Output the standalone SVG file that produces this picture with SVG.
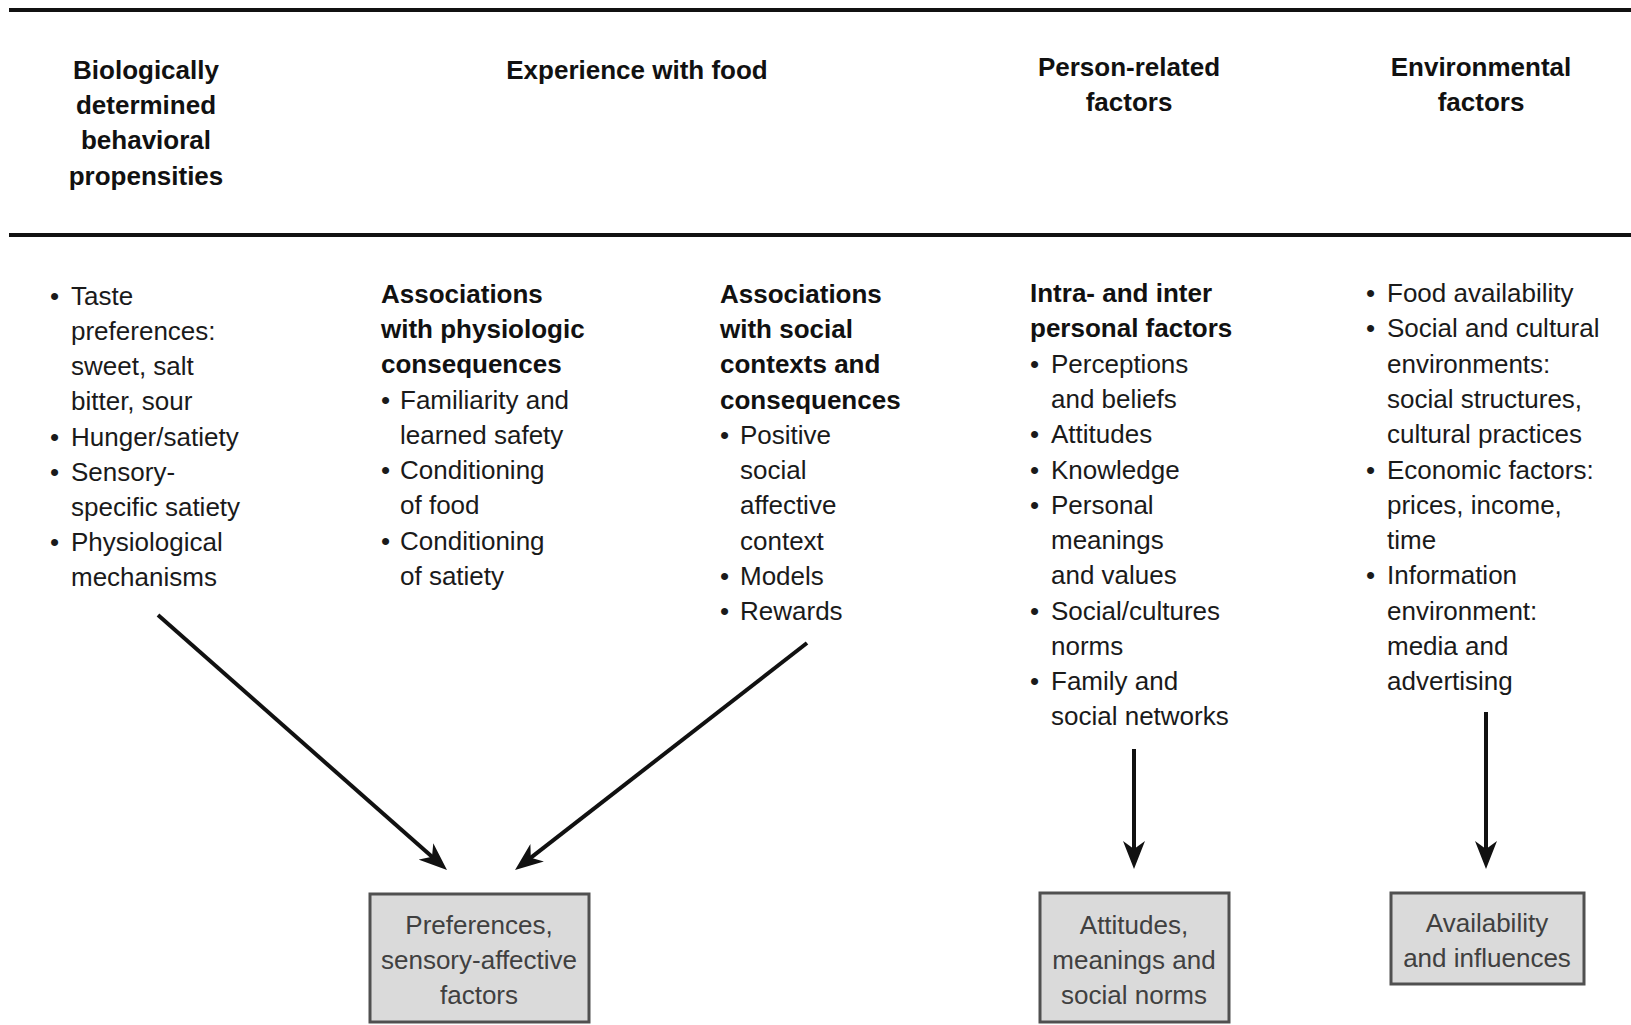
<svg xmlns="http://www.w3.org/2000/svg" width="1631" height="1025" viewBox="0 0 1631 1025">
<style>
  text { font-family: "Liberation Sans", Arial, sans-serif; fill: #1a1a1a; }
  .hd { font-size: 26px; font-weight: bold; fill: #111; text-anchor: middle; }
  .b { font-size: 26px; }
  .bb { font-size: 26px; font-weight: bold; fill: #111; }
  .box { fill: #dadada; stroke: #505050; stroke-width: 3; }
  .bt { font-size: 26px; fill: #404040; text-anchor: middle; }
  .rule { stroke: #111; stroke-width: 4; }
  .arrow { stroke: #111; stroke-width: 4; fill: none; }
</style>
<defs>
  <marker id="ah" viewBox="0 0 28 22" refX="16" refY="11" markerWidth="28" markerHeight="22" markerUnits="userSpaceOnUse" orient="auto">
    <path d="M0,0 L28,11 L0,22 L8,11 z" fill="#111"/>
  </marker>
</defs>
<rect width="1631" height="1025" fill="#fff"/>

<g id="rules">
  <line class="rule" x1="9" y1="10" x2="1631" y2="10"/>
  <line class="rule" x1="9" y1="235" x2="1631" y2="235"/>
</g>

<g id="header-biological">
  <text class="hd" x="146" y="79">Biologically</text>
  <text class="hd" x="146" y="114">determined</text>
  <text class="hd" x="146" y="149">behavioral</text>
  <text class="hd" x="146" y="185">propensities</text>
</g>
<g id="header-experience">
  <text class="hd" x="637" y="79">Experience with food</text>
</g>
<g id="header-person">
  <text class="hd" x="1129" y="76">Person-related</text>
  <text class="hd" x="1129" y="111">factors</text>
</g>
<g id="header-environmental">
  <text class="hd" x="1481" y="76">Environmental</text>
  <text class="hd" x="1481" y="111">factors</text>
</g>

<g id="col-biological">
  <text class="b" x="50" y="305">•</text><text class="b" x="71" y="305">Taste</text>
  <text class="b" x="71" y="340">preferences:</text>
  <text class="b" x="71" y="375">sweet, salt</text>
  <text class="b" x="71" y="410">bitter, sour</text>
  <text class="b" x="50" y="446">•</text><text class="b" x="71" y="446">Hunger/satiety</text>
  <text class="b" x="50" y="481">•</text><text class="b" x="71" y="481">Sensory-</text>
  <text class="b" x="71" y="516">specific satiety</text>
  <text class="b" x="50" y="551">•</text><text class="b" x="71" y="551">Physiological</text>
  <text class="b" x="71" y="586">mechanisms</text>
</g>

<g id="col-physiologic">
  <text class="bb" x="381" y="303">Associations</text>
  <text class="bb" x="381" y="338">with physiologic</text>
  <text class="bb" x="381" y="373">consequences</text>
  <text class="b" x="381" y="409">•</text><text class="b" x="400" y="409">Familiarity and</text>
  <text class="b" x="400" y="444">learned safety</text>
  <text class="b" x="381" y="479">•</text><text class="b" x="400" y="479">Conditioning</text>
  <text class="b" x="400" y="514">of food</text>
  <text class="b" x="381" y="550">•</text><text class="b" x="400" y="550">Conditioning</text>
  <text class="b" x="400" y="585">of satiety</text>
</g>

<g id="col-social">
  <text class="bb" x="720" y="303">Associations</text>
  <text class="bb" x="720" y="338">with social</text>
  <text class="bb" x="720" y="373">contexts and</text>
  <text class="bb" x="720" y="409">consequences</text>
  <text class="b" x="720" y="444">•</text><text class="b" x="740" y="444">Positive</text>
  <text class="b" x="740" y="479">social</text>
  <text class="b" x="740" y="514">affective</text>
  <text class="b" x="740" y="550">context</text>
  <text class="b" x="720" y="585">•</text><text class="b" x="740" y="585">Models</text>
  <text class="b" x="720" y="620">•</text><text class="b" x="740" y="620">Rewards</text>
</g>

<g id="col-person">
  <text class="bb" x="1030" y="302">Intra- and inter</text>
  <text class="bb" x="1030" y="337">personal factors</text>
  <text class="b" x="1030" y="373">•</text><text class="b" x="1051" y="373">Perceptions</text>
  <text class="b" x="1051" y="408">and beliefs</text>
  <text class="b" x="1030" y="443">•</text><text class="b" x="1051" y="443">Attitudes</text>
  <text class="b" x="1030" y="479">•</text><text class="b" x="1051" y="479">Knowledge</text>
  <text class="b" x="1030" y="514">•</text><text class="b" x="1051" y="514">Personal</text>
  <text class="b" x="1051" y="549">meanings</text>
  <text class="b" x="1051" y="584">and values</text>
  <text class="b" x="1030" y="620">•</text><text class="b" x="1051" y="620">Social/cultures</text>
  <text class="b" x="1051" y="655">norms</text>
  <text class="b" x="1030" y="690">•</text><text class="b" x="1051" y="690">Family and</text>
  <text class="b" x="1051" y="725">social networks</text>
</g>

<g id="col-environmental">
  <text class="b" x="1366" y="302">•</text><text class="b" x="1387" y="302">Food availability</text>
  <text class="b" x="1366" y="337">•</text><text class="b" x="1387" y="337">Social and cultural</text>
  <text class="b" x="1387" y="373">environments:</text>
  <text class="b" x="1387" y="408">social structures,</text>
  <text class="b" x="1387" y="443">cultural practices</text>
  <text class="b" x="1366" y="479">•</text><text class="b" x="1387" y="479">Economic factors:</text>
  <text class="b" x="1387" y="514">prices, income,</text>
  <text class="b" x="1387" y="549">time</text>
  <text class="b" x="1366" y="584">•</text><text class="b" x="1387" y="584">Information</text>
  <text class="b" x="1387" y="620">environment:</text>
  <text class="b" x="1387" y="655">media and</text>
  <text class="b" x="1387" y="690">advertising</text>
</g>

<g id="connectors">
  <line class="arrow" x1="158" y1="615" x2="438" y2="862" marker-end="url(#ah)"/>
  <line class="arrow" x1="807" y1="643" x2="524.5" y2="862.6" marker-end="url(#ah)"/>
  <line class="arrow" x1="1134" y1="749" x2="1134" y2="857" marker-end="url(#ah)"/>
  <line class="arrow" x1="1486" y1="712" x2="1486" y2="857" marker-end="url(#ah)"/>
</g>

<g id="box-preferences">
  <rect class="box" x="370" y="894" width="219" height="128"/>
  <text class="bt" x="479" y="934">Preferences,</text>
  <text class="bt" x="479" y="969">sensory-affective</text>
  <text class="bt" x="479" y="1004">factors</text>
</g>
<g id="box-attitudes">
  <rect class="box" x="1040" y="893" width="189" height="129"/>
  <text class="bt" x="1134" y="934">Attitudes,</text>
  <text class="bt" x="1134" y="969">meanings and</text>
  <text class="bt" x="1134" y="1004">social norms</text>
</g>
<g id="box-availability">
  <rect class="box" x="1391" y="893" width="193" height="91"/>
  <text class="bt" x="1487" y="932">Availability</text>
  <text class="bt" x="1487" y="967">and influences</text>
</g>
</svg>
